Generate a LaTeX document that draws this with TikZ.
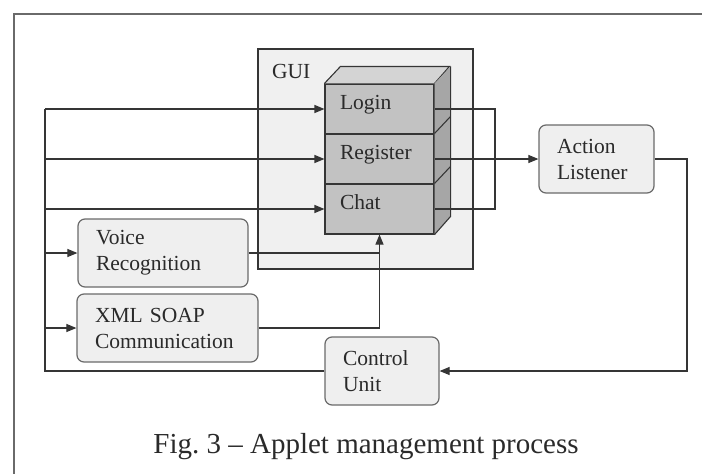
\documentclass[tikz,border=0pt]{standalone}
\usepackage{fontspec}
\setmainfont{Liberation Serif}
\usetikzlibrary{arrows.meta}
\definecolor{wirec}{HTML}{353535}
\definecolor{framec}{HTML}{6A6A6A}
\definecolor{boxedge}{HTML}{6A6A6A}
\definecolor{boxfill}{HTML}{EFEFEF}
\definecolor{guifill}{HTML}{F0F0F0}
\definecolor{frontc}{HTML}{C2C2C2}
\definecolor{topc}{HTML}{D4D4D4}
\definecolor{sidec}{HTML}{A6A6A6}
\definecolor{textc}{HTML}{2A2A2A}
\frenchspacing
\begin{document}
\begin{tikzpicture}[x=1pt,y=-1pt,
  wire/.style={draw=wirec, line width=1.1pt},
  arr/.style={wire, -{Triangle[length=10pt,width=8pt]}},
  softbox/.style={draw=boxedge, fill=boxfill, rounded corners=7pt, line width=1.2pt,
    align=left, font=\fontsize{21.5}{26}\selectfont, text=textc,
    inner xsep=18pt, inner ysep=0pt, minimum height=68pt},
  stackbox/.style={draw=wirec, fill=frontc, line width=1.1pt, align=left,
    font=\fontsize{21.5}{26}\selectfont, text=textc, inner xsep=15pt, inner ysep=0pt,
    text width=79pt, minimum width=109pt, minimum height=50pt,
    text height=14pt, text depth=13pt},
  face/.style={draw=wirec, line width=1.1pt}
]
\useasboundingbox (0,0) rectangle (702,474);

% page frame
\draw[framec, line width=2.6pt] (14,474) -- (14,14) -- (702,14);

% GUI container
\node[draw=wirec, fill=guifill, line width=1.1pt, minimum width=215pt, minimum height=220pt,
  inner sep=0pt] (gui) at (365.5,159) {};
\node[anchor=base west, font=\fontsize{21.5}{26}\selectfont, text=textc, inner sep=0pt]
  (guilabel) at (272,78) {GUI};

% stacked GUI forms (3D block)
\node[stackbox] (login) at (379.5,109) {Login};
\node[stackbox] (register) at (379.5,159) {Register};
\node[stackbox] (chat) at (379.5,209) {Chat};
\fill[topc] (login.north west) -- (login.north east) -- ++(16,-17) -- ++(-109,0) -- cycle;
\draw[face] (login.north west) -- ++(16,-17) -- ++(109,0) -- (login.north east);
\fill[sidec] (login.north east) -- ++(16,-17) -- ++(0,150) -- (chat.south east) -- cycle;
\draw[face] (login.north east) ++(16,-17) -- ++(0,150) -- (chat.south east);
\draw[face] (register.north east) -- ++(16,-17);
\draw[face] (chat.north east) -- ++(16,-17);

% rounded process boxes
\node[softbox, text width=134pt, minimum width=170pt] (voice) at (163,253)
  {Voice\\Recognition};
\node[softbox, text width=145pt, minimum width=181pt] (xml) at (167.5,328)
  {XML SOAP\\Communication};
\node[softbox, text width=78pt, minimum width=114pt] (control) at (382,371)
  {Control\\Unit};
\node[softbox, text width=79pt, minimum width=115pt] (action) at (596.5,159)
  {Action\\Listener};

% left bus fed by the control unit
\coordinate (bus) at (45,371);
\draw[wire] (control.west) -- (bus) -- (bus |- login.west);
\draw[arr] (bus |- login.west) -- (login.west);
\draw[arr] (bus |- register.west) -- (register.west);
\draw[arr] (bus |- chat.west) -- (chat.west);
\draw[arr] (bus |- voice.west) -- (voice.west);
\draw[arr] (bus |- xml.west) -- (xml.west);

% voice and XML outputs into the chat form
\draw[wire] (voice.east) -- (voice.east -| chat.south);
\draw[arr] (xml.east) -- (xml.east -| chat.south) -- (chat.south);

% form outputs to the action listener
\coordinate (joinR) at (495,159);
\draw[wire] (login.east) -- (joinR |- login.east) -- (joinR |- chat.east) -- (chat.east);
\draw[arr] (register.east) -- (action.west);

% action listener back to the control unit
\coordinate (loopR) at (687,159);
\draw[arr] (action.east) -- (loopR) -- (loopR |- control.east) -- (control.east);

% caption
\node[anchor=base, font=\fontsize{29}{34}\selectfont, text=textc, inner sep=0pt]
  (caption) at (366,453) {Fig. 3 – Applet management process};
\end{tikzpicture}
\end{document}
